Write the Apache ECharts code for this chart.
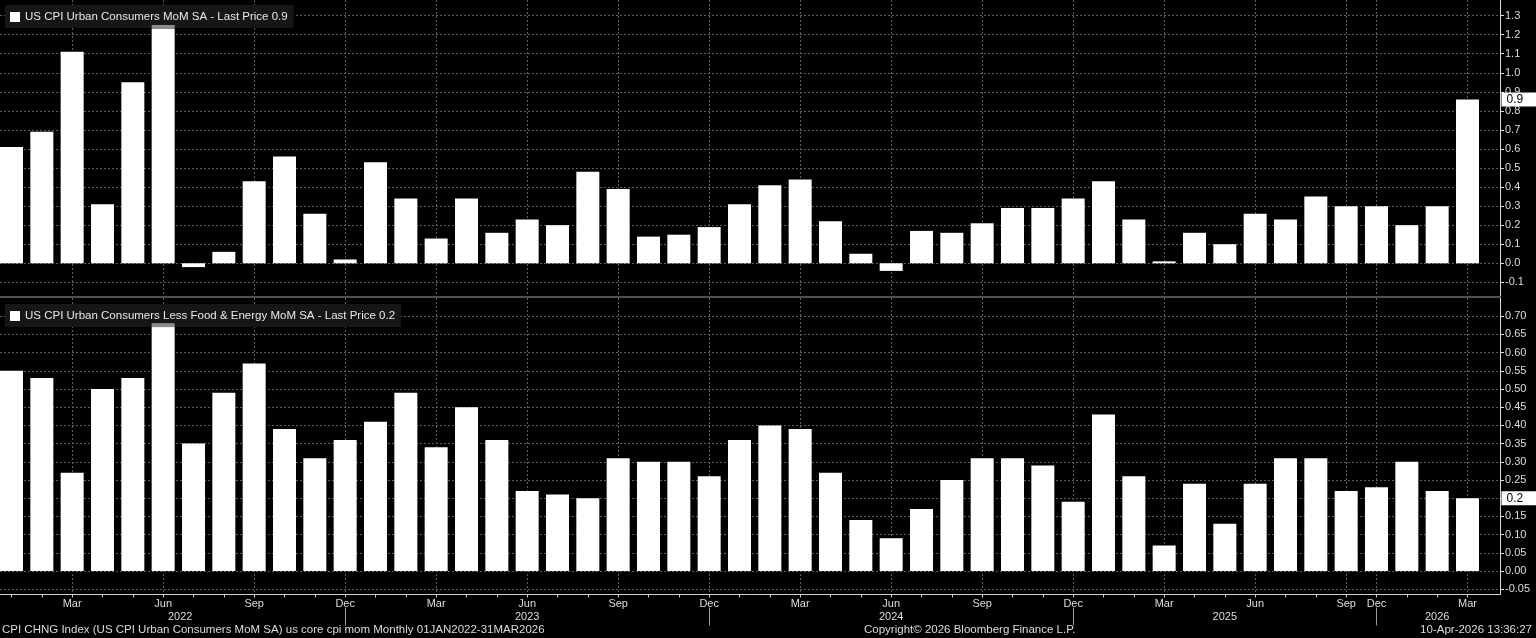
<!DOCTYPE html>
<html lang="en">
<head>
  <meta charset="UTF-8">
  <title>US CPI MoM</title>
  <script src="https://cdn.jsdelivr.net/npm/echarts@6.0.0/dist/echarts.min.js"></script>
  <style>
    body {
      margin: 0;
      padding: 0;
      background-color: #000;
    }
    #chart {
      width: 1536px;
      height: 638px;
    }
  </style>
</head>
<body>
  <div id="chart"></div>

  <script>
    // months shown on the axis (Oct/Nov 2025 have no print, Bloomberg skips them)
    var months = [
      'Jan 2022', 'Feb 2022', 'Mar 2022', 'Apr 2022', 'May 2022', 'Jun 2022',
      'Jul 2022', 'Aug 2022', 'Sep 2022', 'Oct 2022', 'Nov 2022', 'Dec 2022',
      'Jan 2023', 'Feb 2023', 'Mar 2023', 'Apr 2023', 'May 2023', 'Jun 2023',
      'Jul 2023', 'Aug 2023', 'Sep 2023', 'Oct 2023', 'Nov 2023', 'Dec 2023',
      'Jan 2024', 'Feb 2024', 'Mar 2024', 'Apr 2024', 'May 2024', 'Jun 2024',
      'Jul 2024', 'Aug 2024', 'Sep 2024', 'Oct 2024', 'Nov 2024', 'Dec 2024',
      'Jan 2025', 'Feb 2025', 'Mar 2025', 'Apr 2025', 'May 2025', 'Jun 2025',
      'Jul 2025', 'Aug 2025', 'Sep 2025', 'Dec 2025',
      'Jan 2026', 'Feb 2026', 'Mar 2026'
    ];

    // headline CPI MoM SA (%)
    var cpiMoM = [
      0.61, 0.69, 1.11, 0.31, 0.95, 1.23, -0.02, 0.06, 0.43, 0.56, 0.26, 0.02,
      0.53, 0.34, 0.13, 0.34, 0.16, 0.23, 0.20, 0.48, 0.39, 0.14, 0.15, 0.19,
      0.31, 0.41, 0.44, 0.22, 0.05, -0.04, 0.17, 0.16, 0.21, 0.29, 0.29, 0.34,
      0.43, 0.23, 0.01, 0.16, 0.10, 0.26, 0.23, 0.35, 0.30, 0.30,
      0.20, 0.30, 0.86
    ];

    // core CPI (less food & energy) MoM SA (%)
    var coreMoM = [
      0.55, 0.53, 0.27, 0.50, 0.53, 0.67, 0.35, 0.49, 0.57, 0.39, 0.31, 0.36,
      0.41, 0.49, 0.34, 0.45, 0.36, 0.22, 0.21, 0.20, 0.31, 0.30, 0.30, 0.26,
      0.36, 0.40, 0.39, 0.27, 0.14, 0.09, 0.17, 0.25, 0.31, 0.31, 0.29, 0.19,
      0.43, 0.26, 0.07, 0.24, 0.13, 0.24, 0.31, 0.31, 0.22, 0.23,
      0.30, 0.22, 0.20
    ];

    var quarterMonths = ['Mar', 'Jun', 'Sep', 'Dec'];
    var yearLabels = {
      'Jun 2022': '2022',
      'Jun 2023': '2023',
      'Jun 2024': '2024',
      'May 2025': '2025',
      'Feb 2026': '2026'
    };

    var cpiName = 'US CPI Urban Consumers MoM SA';
    var coreName = 'US CPI Urban Consumers Less Food & Energy MoM SA';

    var FONT = "'Liberation Sans', sans-serif";
    var TXT = '#dcdcdc';
    var gridLine = { color: '#5e5e5e', width: 1, type: [2, 2] };

    function isQuarter(idx) {
      return quarterMonths.indexOf(months[idx].slice(0, 3)) >= 0;
    }
    function isDec(idx) {
      return months[idx].slice(0, 3) === 'Dec';
    }
    function isYearLabel(idx) {
      return yearLabels[months[idx]] !== undefined;
    }

    // category axis of the bars: dotted verticals, month ticks and labels
    function barAxis(gridIndex, withLabels) {
      return {
        gridIndex: gridIndex,
        type: 'category',
        data: months,
        boundaryGap: false,
        axisLine: { show: false, onZero: false },
        axisTick: {
          show: withLabels,
          interval: 0,
          length: 3,
          lineStyle: { color: '#cfcfcf' }
        },
        axisLabel: {
          show: withLabels,
          interval: function (idx) { return isQuarter(idx); },
          formatter: function (v) { return v.slice(0, 3); },
          color: TXT,
          fontFamily: FONT,
          fontSize: 11,
          margin: 4
        },
        splitLine: {
          show: true,
          interval: function (idx) { return isQuarter(idx); },
          lineStyle: gridLine
        }
      };
    }

    function frameXAxis(gridIndex, lineColor, lineWidth) {
      return {
        gridIndex: gridIndex,
        type: 'value',
        min: 0,
        max: 1,
        axisLine: { show: true, onZero: false, lineStyle: { color: lineColor, width: lineWidth } },
        axisTick: { show: false },
        axisLabel: { show: false },
        splitLine: { show: false }
      };
    }

    function frameYAxis(gridIndex, min, max, step, digits) {
      return {
        gridIndex: gridIndex,
        type: 'value',
        position: 'right',
        min: min,
        max: max,
        minInterval: step,
        maxInterval: step,
        splitNumber: 16,
        axisLine: { show: true, onZero: false, lineStyle: { color: TXT } },
        axisTick: { show: true, length: 4, lineStyle: { color: TXT } },
        axisLabel: {
          formatter: function (v) { return v.toFixed(digits); },
          showMinLabel: false,
          showMaxLabel: false,
          color: TXT,
          fontFamily: FONT,
          fontSize: 11,
          margin: 5
        },
        splitLine: { show: true, showMinLine: false, showMaxLine: false, lineStyle: gridLine }
      };
    }

    function barSeries(name, values, axisIndex) {
      var last = values[values.length - 1];
      return {
        name: name,
        type: 'bar',
        xAxisIndex: axisIndex,
        yAxisIndex: axisIndex,
        data: values,
        barWidth: 23,
        barMinHeight: 1,
        clip: false,
        itemStyle: { color: '#ffffff' },
        markPoint: {
          silent: true,
          symbol: 'rect',
          symbolSize: [23, 4],
          symbolOffset: [0, -2],
          itemStyle: { color: '#8c8c8c' },
          label: { show: false },
          data: [{ type: 'max' }]
        },
        markLine: {
          silent: true,
          symbol: 'none',
          lineStyle: { color: 'rgba(0,0,0,0)', width: 1 },
          label: {
            show: true,
            position: 'end',
            distance: 34,
            formatter: function () { return last.toFixed(1); },
            backgroundColor: '#ffffff',
            color: '#000',
            fontFamily: FONT,
            fontSize: 12,
            padding: [1, 14, 1, 5]
          },
          data: [{ yAxis: last }]
        }
      };
    }

    function legendBox(name, values, top) {
      var last = values[values.length - 1];
      return {
        data: [name],
        left: 5,
        top: top,
        icon: 'rect',
        itemWidth: 10,
        itemHeight: 10,
        padding: [6, 6, 5, 5],
        backgroundColor: '#161616',
        selectedMode: false,
        textStyle: { color: '#e8e8e8', fontFamily: FONT, fontSize: 11.5 },
        formatter: function (n) { return n + ' - Last Price ' + last.toFixed(1); }
      };
    }

    var chart = echarts.init(document.getElementById('chart'));

    chart.setOption({
      backgroundColor: '#000',
      animation: false,
      textStyle: { fontFamily: FONT },
      title: [
        {
          text: 'CPI CHNG Index (US CPI Urban Consumers MoM SA) us core cpi mom Monthly 01JAN2022-31MAR2026',
          left: 2, top: 624, padding: 0,
          textStyle: { color: TXT, fontSize: 11.5, fontWeight: 'normal', fontFamily: FONT }
        },
        {
          text: 'Copyright\u00a9 2026 Bloomberg Finance L.P.',
          left: 864, top: 624, padding: 0,
          textStyle: { color: TXT, fontSize: 11.5, fontWeight: 'normal', fontFamily: FONT }
        },
        {
          text: '10-Apr-2026 13:36:27',
          right: 4, top: 624, padding: 0,
          textStyle: { color: TXT, fontSize: 11.5, fontWeight: 'normal', fontFamily: FONT }
        }
      ],
      legend: [
        legendBox(cpiName, cpiMoM, 5),
        legendBox(coreName, coreMoM, 304)
      ],
      grid: [
        { left: 11.5, top: 0, width: 1456, height: 297 },
        { left: -4, top: 0, width: 1504, height: 297 },
        { left: 11.5, top: 298, width: 1456, height: 296.5 },
        { left: -4, top: 298, width: 1504, height: 296.5 }
      ],
      xAxis: [
        barAxis(0, false),
        frameXAxis(1, '#505050', 2),
        barAxis(2, true),
        frameXAxis(3, '#cfcfcf', 1),
        {
          // year row with the short separators under each December
          gridIndex: 2,
          type: 'category',
          data: months,
          boundaryGap: false,
          position: 'bottom',
          offset: 13,
          axisLine: { show: false, onZero: false },
          axisTick: {
            show: true,
            interval: function (idx) { return isDec(idx); },
            length: 18,
            lineStyle: { color: '#9a9a9a' }
          },
          axisLabel: {
            interval: function (idx) { return isYearLabel(idx); },
            formatter: function (v) {
              var y = yearLabels[v] || '';
              return v === 'Jun 2022' ? '{s|' + y + '}' : y;
            },
            rich: { s: { padding: [0, 0, 0, 34], color: TXT, fontSize: 11, fontFamily: FONT } },
            color: TXT,
            fontFamily: FONT,
            fontSize: 11,
            margin: 4
          },
          splitLine: { show: false }
        }
      ],
      yAxis: [
        { gridIndex: 0, type: 'value', min: -0.177, max: 1.382, show: false },
        frameYAxis(1, -0.177, 1.382, 0.1, 1),
        { gridIndex: 2, type: 'value', min: -0.0646, max: 0.75, show: false },
        frameYAxis(3, -0.0646, 0.75, 0.05, 2)
      ],
      series: [
        barSeries(cpiName, cpiMoM, 0),
        barSeries(coreName, coreMoM, 2)
      ]
    });
  </script>
</body>
</html>
